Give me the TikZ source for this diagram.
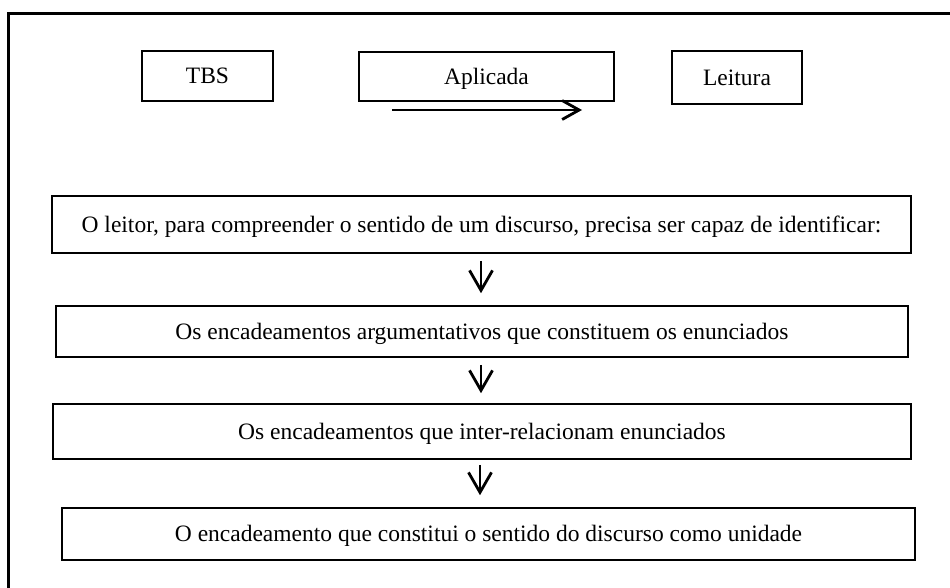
\documentclass[tikz,border=0pt]{standalone}
\usepackage{fontspec}
\setmainfont{Liberation Serif}
\usetikzlibrary{arrows.meta}
\begin{document}
\begin{tikzpicture}[x=1pt,y=-1pt,
  box/.style={draw,line width=1.6pt,inner sep=0pt,font=\fontsize{23.5}{28}\selectfont,text=black,text height=15.5pt,text depth=0pt},
  flow/.style={line width=2.8pt,-{Straight Barb[length=20pt,width=23pt,line width=2.8pt]}}
]
\useasboundingbox (0,0) rectangle (950,588);
% open frame
\coordinate (fbl) at (8,588);
\coordinate (ftl) at (8,14);
\coordinate (ftr) at (950,14);
\draw[line width=3pt] (fbl) -- (ftl) -- (ftr);
% top row
\node[box,minimum width=131pt,minimum height=50pt] (tbs) at (207.5,76) {TBS};
\node[box,minimum width=255pt,minimum height=49pt] (apl) at (486.5,76.5) {Aplicada};
\node[box,minimum width=130pt,minimum height=53pt] (lei) at (737,77.5) {Leitura};
\coordinate (a1) at (392,110);
\coordinate (a2) at (582,110);
\draw[line width=2.8pt,-{Straight Barb[length=17pt,width=19pt,line width=2.8pt]}] (a1) -- (a2);
% flow boxes
\node[box,minimum width=859pt,minimum height=57pt] (b1) at (481.5,224.5) {O leitor, para compreender o sentido de um discurso, precisa ser capaz de identificar:};
\node[box,minimum width=852pt,minimum height=51pt] (b2) at (482,331.5) {Os encadeamentos argumentativos que constituem os enunciados};
\node[box,minimum width=858pt,minimum height=55pt] (b3) at (482,431.5) {Os encadeamentos que inter-relacionam enunciados};
\node[box,minimum width=853pt,minimum height=52pt] (b4) at (488.5,534) {O encadeamento que constitui o sentido do discurso como unidade};
% arrows
\draw[flow,shorten <=7pt,shorten >=12pt] (b1.south -| 481,0) -- (b2.north -| 481,0);
\draw[flow,shorten <=7pt,shorten >=10pt] (b2.south -| 481,0) -- (b3.north -| 481,0);
\draw[flow,shorten <=5pt,shorten >=12pt] (b3.south -| 480,0) -- (b4.north -| 480,0);
\end{tikzpicture}
\end{document}
